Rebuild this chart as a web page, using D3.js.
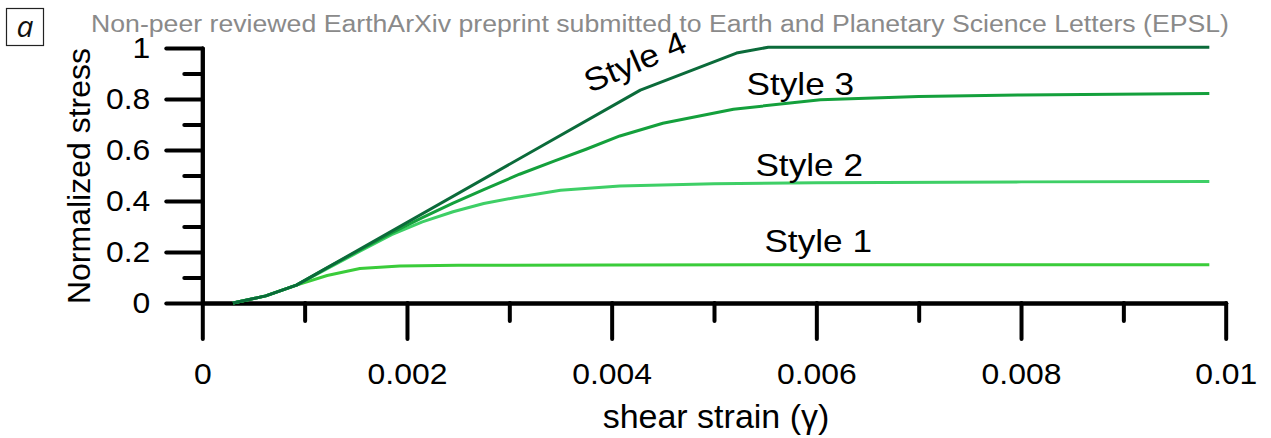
<!DOCTYPE html>
<html><head><meta charset="utf-8">
<script src="https://cdn.jsdelivr.net/npm/d3@7"></script>
<style>
html,body{margin:0;padding:0;background:#fff;}
svg{display:block;}
text{font-family:"Liberation Sans",Arial,sans-serif;}
</style></head>
<body>
<svg id="chart" width="1271" height="438"></svg>
<script>
// strain in units of 0.001 (converted below), normalized stress
const seriesNames = ["Style 1", "Style 2", "Style 3", "Style 4"];
const seriesColors = ["#3acc3a", "#3ecf66", "#14a03c", "#0b6b3a"];
const style1 = [[0.30,0],[0.62,0.028],[0.92,0.07],[1.22,0.108],[1.54,0.135],[1.93,0.145],[2.5,0.148],[4.0,0.149],[6.0,0.15],[9.84,0.15]];
const style2 = [[0.30,0],[0.62,0.028],[0.92,0.07],[1.22,0.135],[1.54,0.203],[1.85,0.268],[2.15,0.318],[2.45,0.358],[2.75,0.390],[3.05,0.413],[3.50,0.442],[4.08,0.459],[5.0,0.468],[6.0,0.472],[8.0,0.475],[9.84,0.476]];
const style3 = [[0.30,0],[0.62,0.028],[0.92,0.07],[1.22,0.138],[1.54,0.208],[1.85,0.275],[2.15,0.335],[2.45,0.392],[2.75,0.445],[3.10,0.505],[3.45,0.558],[3.75,0.603],[4.08,0.655],[4.50,0.705],[5.19,0.760],[6.04,0.797],[7.0,0.810],[8.0,0.816],[9.84,0.822]];
const style4 = [[0.30,0],[0.62,0.028],[0.92,0.07],[4.28,0.835],[5.22,0.98],[5.53,1.003],[9.84,1.003]];
const seriesData = [style1, style2, style3, style4];
const xTicks = [0, 0.002, 0.004, 0.006, 0.008, 0.01];
const xTickLabels = ["0", "0.002", "0.004", "0.006", "0.008", "0.01"];
const xMinor = [0.001, 0.003, 0.005, 0.007, 0.009];
const yTicks = [0, 0.2, 0.4, 0.6, 0.8, 1];
const yTickLabels = ["0", "0.2", "0.4", "0.6", "0.8", "1"];
const yMinor = [0.1, 0.3, 0.5, 0.7, 0.9];
// label anchors: [strain, stress, rotation]
const labelAnchors = [[0.006018, 0.201, 0], [0.00593, 0.498, 0], [0.005843, 0.816, 0], [0.00427, 0.906, -23]];
const headerText = "Non-peer reviewed EarthArXiv preprint submitted to Earth and Planetary Science Letters (EPSL)";

const svg = d3.select("#chart");
const x = d3.scaleLinear().domain([0, 0.01]).range([202.3, 1225.7]);
const y = d3.scaleLinear().domain([0, 1]).range([303, 48]);
const SX = 1.1;

// header
svg.append("text").attr("x", 91).attr("y", 31.5).attr("fill", "#8a8a8a")
  .attr("font-size", 23).attr("textLength", 1138).attr("lengthAdjust", "spacingAndGlyphs")
  .text(headerText);
// panel label
svg.append("rect").attr("x", 6.5).attr("y", 8.5).attr("width", 37).attr("height", 37)
  .attr("fill", "#fff").attr("stroke", "#222").attr("stroke-width", 1.2);
svg.append("text").attr("x", 25).attr("y", 37).attr("text-anchor", "middle")
  .attr("font-size", 30).attr("font-style", "italic")
  .style("font-family", "'Open Sans','Noto Sans',sans-serif").attr("fill", "#111").text("a");

// axes
const axisW = 4;
const gx = svg.append("g").attr("transform", `translate(0,${y(0)})`);
gx.call(d3.axisBottom(x).tickValues(xMinor).tickSize(18).tickSizeOuter(0).tickFormat(""));
gx.call(g => g.append("g").call(d3.axisBottom(x).tickValues(xTicks).tickSize(36).tickSizeOuter(0).tickPadding(24)
  .tickFormat((d, i) => xTickLabels[i])));
const gy = svg.append("g").attr("transform", `translate(${x(0)},0)`);
gy.call(d3.axisLeft(y).tickValues(yMinor).tickSize(18).tickSizeOuter(0).tickFormat(""));
gy.call(g => g.append("g").call(d3.axisLeft(y).tickValues(yTicks).tickSize(36).tickSizeOuter(0).tickPadding(16)
  .tickFormat((d, i) => yTickLabels[i])));
svg.selectAll(".domain, .tick line").attr("stroke", "#000").attr("stroke-width", axisW).attr("stroke-linecap", "round");
svg.selectAll(".tick text").attr("fill", "#000").attr("font-size", 29).style("font-family", "'Liberation Sans',Arial,sans-serif")
  .each(function() {
    const t = d3.select(this);
    const tx = +t.attr("x") || 0, ty = +t.attr("y") || 0;
    t.attr("x", 0).attr("y", 0).attr("transform", `translate(${tx},${ty}) scale(${SX},1)`);
  });

// axis titles
svg.append("text").attr("x", 716).attr("y", 428).attr("text-anchor", "middle").attr("font-size", 34)
  .text("shear strain (γ)");
svg.append("text").attr("transform", `translate(90,176) rotate(-90)`).attr("text-anchor", "middle")
  .attr("font-size", 32).text("Normalized stress");

// lines
const line = d3.line().x(d => x(d[0] / 1000)).y(d => y(d[1]));
seriesData.forEach((s, i) => {
  svg.append("path").datum(s).attr("d", line).attr("fill", "none")
    .attr("stroke", seriesColors[i]).attr("stroke-width", 3).attr("stroke-linejoin", "round");
});
// labels
seriesNames.forEach((n, i) => {
  const a = labelAnchors[i];
  svg.append("text").attr("transform", `translate(${x(a[0])},${y(a[1])}) rotate(${a[2]}) scale(${SX},1)`)
    .attr("text-anchor", "middle").attr("font-size", 32).attr("fill", "#000").text(n);
});
</script>
</body></html>
